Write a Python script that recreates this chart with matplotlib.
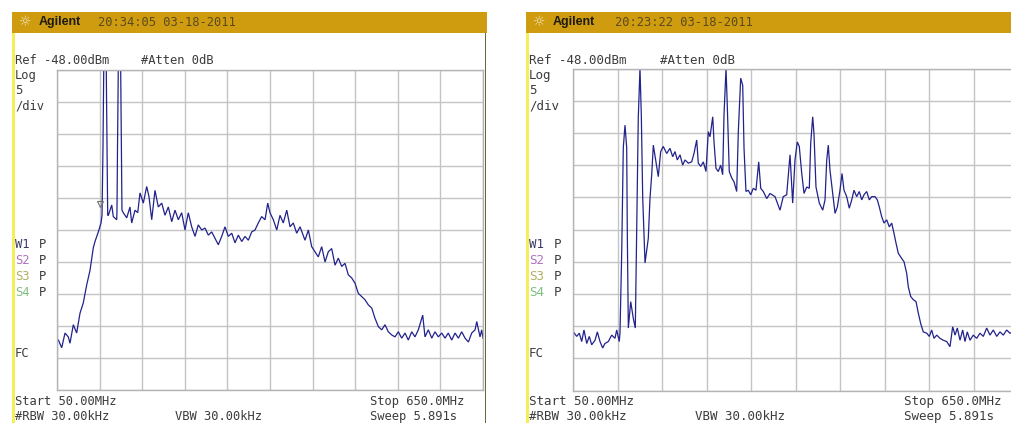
import matplotlib
matplotlib.use("Agg")
import matplotlib.pyplot as plt
from matplotlib.patches import Rectangle

W, H = 1011, 423

# ---- trace data: frequency (MHz) / level (dBm) ----
left_freq = [
    50.0, 52.0, 56.6, 61.3, 65.9, 68.3, 73.0, 77.7, 82.4, 87.0, 91.8, 96.5, 101.1, 103.5,
    108.2, 112.0, 113.4, 114.8, 115.8, 119.4, 120.4, 121.4, 122.3, 127.1, 129.3, 134.1,
    134.5, 135.2, 136.3, 139.7, 140.8, 141.5, 143.4, 148.2, 152.8, 155.2, 159.9, 163.7,
    166.9, 171.6, 176.3, 179.6, 183.4, 188.0, 192.7, 197.5, 202.1, 206.8, 211.6, 216.2,
    220.9, 225.6, 230.3, 234.9, 239.7, 244.4, 249.0, 253.8, 258.5, 263.1, 267.9, 272.5,
    277.2, 282.0, 286.6, 291.3, 296.1, 300.7, 305.4, 310.2, 314.8, 319.5, 324.2, 328.9,
    333.5, 338.3, 343.0, 346.8, 350.0, 354.7, 359.5, 364.1, 368.7, 373.6, 378.2, 382.8,
    387.6, 392.3, 399.3, 404.0, 408.7, 413.4, 418.0, 422.8, 427.5, 432.1, 436.9, 441.6,
    446.2, 451.0, 455.6, 460.3, 465.1, 469.7, 474.4, 479.2, 483.8, 488.5, 493.3, 497.9,
    502.6, 507.3, 512.0, 516.6, 521.4, 526.1, 530.7, 535.5, 540.2, 544.8, 549.6, 554.2,
    558.9, 565.1, 568.3, 573.0, 577.8, 582.4, 587.1, 591.9, 596.5, 601.1, 605.9, 610.6,
    615.3, 620.0, 624.7, 629.4, 634.1, 638.8, 641.2, 645.8, 648.2, 650.0,
]
left_dbm = [
    -90.2, -90.2, -91.4, -89.1, -89.7, -90.7, -87.8, -89.1, -86.0, -84.4, -81.6, -79.3, -75.8, -74.8,
    -73.3, -71.9, -70.7, -59.9, -48.0, -48.0, -59.9, -70.7, -70.7, -69.1, -70.9, -71.4,
    -69.9, -60.5, -48.0, -48.0, -60.5, -69.9, -70.3, -71.1, -69.4, -71.9, -69.9, -70.3,
    -67.2, -68.8, -66.2, -67.8, -71.4, -66.8, -69.4, -68.8, -70.7, -69.4, -71.7, -69.9,
    -71.4, -70.3, -73.0, -70.3, -72.5, -74.0, -72.2, -73.0, -72.7, -73.8, -73.3, -74.3,
    -75.3, -74.0, -72.5, -74.0, -73.5, -75.0, -73.8, -74.8, -74.0, -74.6, -73.3, -73.0,
    -71.9, -70.9, -71.4, -68.8, -70.3, -71.4, -73.0, -70.7, -71.9, -69.9, -72.5, -71.9,
    -73.5, -72.5, -74.6, -73.0, -75.6, -76.4, -77.2, -75.6, -78.0, -76.4, -75.9, -78.5,
    -77.4, -78.7, -78.2, -80.0, -80.5, -81.3, -82.9, -83.4, -83.9, -84.7, -85.2, -86.8,
    -88.1, -88.6, -87.8, -88.9, -89.4, -89.7, -88.9, -89.9, -89.1, -90.2, -88.9, -89.7,
    -88.6, -86.3, -89.7, -88.6, -89.9, -88.9, -89.7, -89.1, -89.9, -89.1, -90.2, -89.1,
    -89.9, -88.9, -89.9, -90.5, -89.1, -88.6, -87.3, -89.7, -88.6, -89.9,
]

right_freq = [
    50.0, 54.6, 58.1, 61.3, 64.4, 68.1, 71.6, 74.8, 79.3, 82.4, 86.0, 89.6, 92.7, 97.2,
    101.8, 106.2, 108.5, 112.0, 113.0, 115.3, 117.4, 119.7, 122.0, 122.8, 124.2, 127.4,
    130.9, 133.6, 135.5, 137.6, 139.9, 141.7, 143.6, 146.7, 151.1, 153.4, 155.7, 157.9,
    161.5, 164.6, 167.8, 171.3, 175.9, 180.4, 184.0, 187.1, 190.2, 193.9, 197.5, 200.6,
    205.1, 209.6, 212.7, 216.4, 218.5, 221.8, 225.3, 228.9, 232.0, 234.3, 238.0, 239.7,
    242.4, 245.5, 248.7, 251.4, 253.2, 255.9, 257.6, 260.3, 263.6, 266.7, 270.3, 272.5,
    275.7, 278.4, 280.2, 282.8, 285.9, 289.2, 292.7, 296.3, 300.0, 302.7, 306.2, 310.8,
    315.2, 322.0, 328.7, 333.1, 337.7, 342.2, 345.8, 348.9, 352.0, 354.7, 358.0, 361.1,
    364.7, 368.2, 370.1, 372.8, 374.5, 377.2, 381.7, 386.3, 389.4, 391.7, 393.8, 396.1,
    399.7, 402.9, 406.0, 409.6, 412.3, 415.0, 418.6, 422.1, 425.4, 428.5, 432.1, 435.6,
    438.9, 442.0, 445.6, 449.1, 452.3, 456.8, 459.9, 462.6, 465.8, 468.9, 472.6, 476.1,
    479.3, 482.4, 485.1, 488.2, 492.8, 495.9, 499.5, 501.7, 504.9, 508.4, 512.1, 515.2,
    518.4, 521.9, 526.5, 530.0, 533.2, 536.3, 540.0, 544.4, 548.9, 553.5, 557.9, 561.5,
    564.7, 567.8, 571.4, 575.0, 578.1, 581.2, 584.9, 589.3, 593.9, 598.3, 602.8, 607.4,
    611.8, 616.3, 620.9, 625.3, 629.8, 634.3, 638.7, 645.0, 650.0,
]
right_dbm = [
    -88.9, -89.6, -89.1, -90.4, -88.6, -90.7, -89.6, -90.9, -90.2, -88.9, -90.4, -91.4, -90.7, -90.4,
    -89.4, -89.9, -88.6, -90.4, -88.9, -76.4, -60.3, -56.8, -60.3, -73.3, -88.3, -84.2,
    -86.8, -88.3, -73.3, -55.7, -48.0, -55.2, -68.1, -78.2, -74.4, -68.2, -64.5, -59.9,
    -62.5, -64.8, -60.9, -60.1, -61.2, -60.4, -61.7, -60.9, -62.2, -61.4, -63.0, -62.2,
    -62.7, -62.5, -61.2, -59.1, -62.7, -63.2, -62.5, -64.0, -57.8, -58.6, -55.5, -59.4,
    -63.5, -64.0, -63.0, -64.5, -55.2, -48.0, -53.7, -64.0, -65.0, -65.6, -67.1, -57.8,
    -49.5, -50.6, -60.4, -67.1, -66.9, -67.6, -66.6, -66.9, -62.5, -66.6, -67.1, -68.2,
    -67.4, -67.9, -70.0, -67.9, -67.6, -61.4, -68.9, -62.2, -59.4, -60.1, -64.3, -67.4,
    -66.4, -66.6, -59.6, -55.5, -58.1, -66.4, -68.9, -70.0, -68.4, -62.2, -59.9, -63.8,
    -67.4, -70.5, -69.5, -66.9, -64.3, -66.9, -67.9, -69.7, -68.4, -66.9, -67.9, -67.1,
    -68.4, -67.6, -67.1, -68.4, -67.9, -67.9, -68.4, -69.5, -71.0, -72.0, -71.5, -72.6,
    -72.0, -73.6, -75.1, -76.7, -77.5, -78.0, -79.8, -81.9, -83.4, -83.9, -84.2, -86.0,
    -87.6, -88.9, -89.1, -89.6, -88.6, -89.9, -89.4, -89.9, -90.2, -90.4, -91.2, -88.1,
    -89.4, -88.3, -90.2, -88.6, -90.4, -88.9, -90.2, -89.4, -89.9, -89.1, -89.6, -88.3,
    -89.4, -88.6, -89.6, -88.9, -89.4, -88.6, -89.1, -88.8, -89.4,
]

# marker glyph seen on the left screen, just before the first carrier
left_marker = (110.0, -68.9)

screens = [
    {"time": "20:34:05 03-18-2011", "freq": left_freq, "dbm": left_dbm, "marker": left_marker},
    {"time": "20:23:22 03-18-2011", "freq": right_freq, "dbm": right_dbm, "marker": None},
]

# ---- layout (pixels) ----
layouts = [
    dict(x0=12, x1=487, grid=(57, 70, 483, 390), scale=1.0, dx=0),
    dict(x0=526, x1=1030, grid=(573.3, 68.5, 1018.3, 390.5), scale=1.035, dx=515),
]

GOLD = "#cf9c10"
TXT = "#3c3c3c"
MONO = "DejaVu Sans Mono"

fig = plt.figure(figsize=(W / 100, H / 100), dpi=100)
fig.patch.set_facecolor("white")


def fx(x):
    return x / W


def fy(y):
    return 1 - y / H


def rect(x, y, w, h, color):
    fig.patches.append(Rectangle((fx(x), fy(y + h)), w / W, h / H, transform=fig.transFigure,
                                 facecolor=color, edgecolor="none", zorder=0))


def label(x, y, s, size, color=TXT, **kw):
    fig.text(fx(x), fy(y), s, fontsize=size, color=color, family=MONO,
             va="center", ha="left", **kw)


for scr, lay in zip(screens, layouts):
    x0, x1, dx, sc = lay["x0"], lay["x1"], lay["dx"], lay["scale"]
    fs = 8.7 * sc

    # header bar and borders
    rect(x0, 12, x1 - x0, 21, GOLD)
    rect(x0, 33, 3, H - 33, "#f6ee58")
    if x1 < W:
        rect(x1 - 2.5, 33, 1.5, H - 33, "#6b6640")

    fig.text(fx(x0 + 13), fy(22), "\u263c", fontsize=10, color="#f0e6c0", va="center", ha="center",
             family="DejaVu Sans")
    fig.text(fx(x0 + 27), fy(22), "Agilent", fontsize=9, color="#1e1a10", va="center", ha="left",
             family="Liberation Sans", weight="bold")
    label(x0 + 86 * sc, 22, scr["time"], 8.7, color="#5a4a1e")

    # annotations around the graticule
    label(x0 + 3, 60, "Ref -48.00dBm", fs)
    label(x0 + 129 * sc, 60, "#Atten 0dB", fs)
    label(x0 + 3, 76, "Log", fs)
    label(x0 + 3, 91, "5", fs)
    label(x0 + 3, 106, "/div", fs)
    for i, (name, col) in enumerate([("W1", "#3a3a6a"), ("S2", "#b070c0"),
                                     ("S3", "#b0b060"), ("S4", "#80c080")]):
        label(x0 + 3, 245 + 16 * i, name, fs, color=col)
        label(x0 + 27 * sc, 245 + 16 * i, "P", fs)
    label(x0 + 3, 353, "FC", fs)
    label(x0 + 3, 401, "Start 50.00MHz", fs)
    label(x0 + 3, 416, "#RBW 30.00kHz", fs)
    label(x0 + 163 * sc, 416, "VBW 30.00kHz", fs)
    label(x0 + 358 * sc + (dx and 7), 401, "Stop 650.0MHz", fs)
    label(x0 + 358 * sc + (dx and 7), 416, "Sweep 5.891s", fs)

    # graticule + trace
    gx0, gy0, gx1, gy1 = lay["grid"]
    ax = fig.add_axes([fx(gx0), fy(gy1), (gx1 - gx0) / W, (gy1 - gy0) / H])
    ax.set_xlim(50, 650)
    ax.set_ylim(-98, -48)
    ax.set_xticks(range(50, 651, 60))
    ax.set_yticks(range(-98, -47, 5))
    ax.tick_params(length=0, labelbottom=False, labelleft=False)
    ax.grid(True, color="#c4c4c4", lw=1.0)
    for sp in ax.spines.values():
        sp.set_color("#b4b4b4")
        sp.set_linewidth(1.0)
    ax.set_facecolor("white")
    ax.plot(scr["freq"], scr["dbm"], color="#22228c", lw=0.9, solid_joinstyle="miter")
    if scr["marker"]:
        ax.plot(*scr["marker"], marker="v", ms=5, mfc="none", mec="#707070", mew=0.8)

fig.savefig("out.png", dpi=100)
